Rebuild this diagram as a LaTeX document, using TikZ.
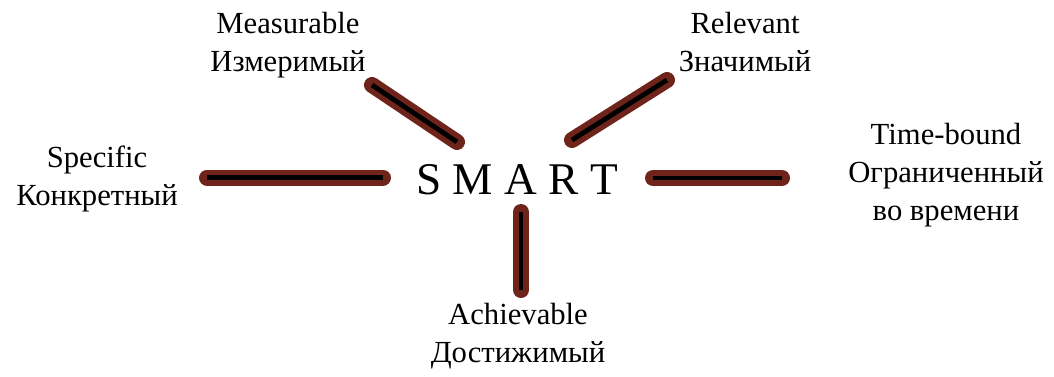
\documentclass[tikz,border=0pt]{standalone}
\usepackage{fontspec}
\setmainfont{Liberation Serif}
\definecolor{spokebrown}{RGB}{110,36,26}
\tikzset{
  lbl/.style={inner sep=0pt, anchor=base, align=center, font=\fontsize{23}{28.5}\selectfont},
  brownline/.style={draw=spokebrown, line width=12pt, line cap=round, shift={(1.5,3.5)}},
  blackline/.style={draw=black, line width=3.6pt, line cap=butt},
}
\begin{document}
\begin{tikzpicture}[x=0.75pt,y=-0.75pt]
\useasboundingbox (0,0) rectangle (1054,376);
\node[inner sep=0pt, anchor=base, font=\fontsize{34}{40}\selectfont] (smart) at (517,194) {S M A R T};
\node[lbl] (meas) at (288,71) {Measurable\\Измеримый};
\node[lbl] (rel) at (745,71) {Relevant\\Значимый};
\node[lbl] (spec) at (97,205) {Specific\\Конкретный};
\node[lbl] (time) at (946,220) {Time-bound\\Ограниченный\\во времени};
\node[lbl] (ach) at (518,362) {Achievable\\Достижимый};
\coordinate (sa) at (207,177.5);
\coordinate (sb) at (383,177.5);
\coordinate (ta) at (653,178);
\coordinate (tb) at (782,178);
\coordinate (aa) at (521,212);
\coordinate (ab) at (521,290);
\coordinate (ma) at (372,85);
\coordinate (mb) at (457,142);
\coordinate (ra) at (572,140);
\coordinate (rb) at (667,80);
\foreach \p/\q in {sa/sb, ta/tb, aa/ab, ma/mb, ra/rb} {
  \draw[brownline] (\p) -- (\q);
  \draw[blackline] (\p) -- (\q);
}
\end{tikzpicture}
\end{document}
